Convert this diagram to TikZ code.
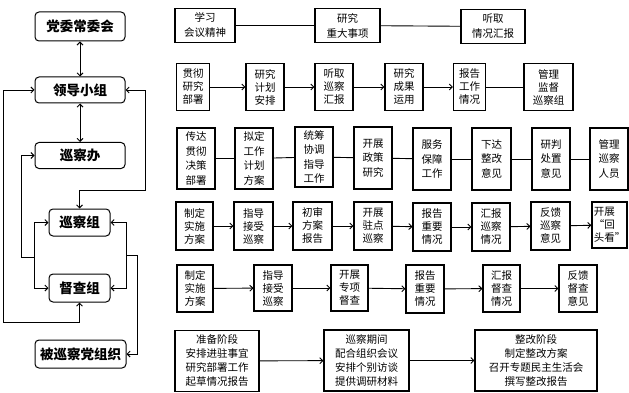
\documentclass[tikz,border=0pt]{standalone}
\usepackage{fontspec}
\newfontfamily\cjk{Noto Sans CJK SC}
\usetikzlibrary{arrows.meta}
\begin{document}
\begin{tikzpicture}[x=1pt,y=-1pt,
  lbox/.style={draw, rounded corners=4pt, line width=1pt, inner sep=0pt, font=\cjk\bfseries\fontsize{13.5}{15}\selectfont},
  rbox/.style={draw, line width=1.2pt, inner sep=0pt, align=center, font=\cjk\fontsize{10.5}{13}\selectfont},
  rboxw/.style={rbox, font=\cjk\fontsize{10.5}{14.5}\selectfont},
  sz/.style 2 args={minimum width=#1pt, minimum height=#2pt},
  conn/.style={line width=0.9pt},
  arw/.style={conn, -{Straight Barb[length=3pt,width=6pt]}},
  darw/.style={conn, {Straight Barb[length=3pt,width=6pt]}-{Straight Barb[length=3pt,width=6pt]}}]
\useasboundingbox (0,0) rectangle (629,393);
% left column
\node[lbox, sz={90}{29}] (dw) at (80,26.5) {党委常委会};
\node[lbox, sz={90}{26}] (ld) at (80,90) {领导小组};
\node[lbox, sz={90}{26}] (xcb) at (80,155.5) {巡察办};
\node[lbox, sz={61}{27}] (xcz) at (79.5,222.5) {巡察组};
\node[lbox, sz={61}{28}] (dcz) at (79.5,288) {督查组};
\node[lbox, sz={91}{28}] (bxc) at (80.5,354) {被巡察党组织};
\draw[darw] (dw) -- (ld);
\draw[darw] (ld) -- (xcb);
\coordinate (L1) at (3,322);
\draw[darw] (ld.west) -| (L1) -| (dcz.south);
\coordinate (L2) at (21,257);
\coordinate (L3) at (34,257);
\draw[arw] (L2) |- (xcb.west);
\draw[conn] (L2) -- (L3);
\draw[arw] (L3) |- (xcz.west);
\draw[arw] (L3) |- (dcz.west);
\coordinate (R1) at (145,190);
\draw[darw] (ld.east) -| (R1) -| (xcz.north);
\coordinate (R2) at (126,255);
\coordinate (R3) at (137,255);
\draw[arw] (R2) |- (xcz.east);
\draw[arw] (R2) |- (dcz.east);
\draw[arw] (R2) -- (R3) |- (bxc.east);
% row 1
\node[rbox, sz={60}{34}, font=\cjk\fontsize{10.5}{15}\selectfont] (a1) at (205,25.5) {学习\\会议精神};
\node[rbox, sz={65}{34}, font=\cjk\fontsize{10.5}{15}\selectfont] (a2) at (347.5,25.5) {研究\\重大事项};
\node[rbox, sz={64}{34}, font=\cjk\fontsize{10.5}{15}\selectfont] (a3) at (493,26.5) {听取\\情况汇报};
\draw[conn] (a1) -- (a2);
\draw[conn] (a2) -- (a3);
% row 2
\node[rbox, sz={33}{47}] (b1) at (193,87) {贯彻\\研究\\部署};
\node[rbox, sz={38}{47}] (b2) at (265,87) {研究\\计划\\安排};
\node[rbox, sz={38}{47}] (b3) at (334,87) {听取\\巡察\\汇报};
\node[rbox, sz={38}{47}] (b4) at (404,87) {研究\\成果\\运用};
\node[rbox, sz={32}{47}] (b5) at (469.5,87) {报告\\工作\\情况};
\node[rbox, sz={49}{47}] (b6) at (548.5,87) {管理\\监督\\巡察组};
\draw[arw] (b1) -- (b2);
\draw[arw] (b2) -- (b3);
\draw[arw] (b3) -- (b4);
\draw[arw] (b4) -- (b5);
\draw[conn] (b5) -- (b6);
% row 3
\node[rboxw, sz={38}{61}] (c1) at (196,158.5) {传达\\贯彻\\决策\\部署};
\node[rboxw, sz={38}{61}] (c2) at (254,158.5) {拟定\\工作\\计划\\方案};
\node[rboxw, sz={38}{60}] (c3) at (314,157) {统筹\\协调\\指导\\工作};
\node[rboxw, sz={38}{62}] (c4) at (373,158) {开展\\政策\\研究};
\node[rboxw, sz={38}{62}] (c5) at (432,159) {服务\\保障\\工作};
\node[rboxw, sz={39}{62}] (c6) at (491.5,159) {下达\\整改\\意见};
\node[rboxw, sz={38}{62}] (c7) at (551,159) {研判\\处置\\意见};
\node[rboxw, sz={38}{62}] (c8) at (609,159) {管理\\巡察\\人员};
\foreach \p/\q in {c1/c2,c2/c3,c3/c4,c4/c5,c5/c6,c6/c7,c7/c8}
  \draw[conn] (\p) -- (\q);
% row 4
\node[rbox, sz={37}{48}] (d1) at (194.5,226) {制定\\实施\\方案};
\node[rbox, sz={39}{48}] (d2) at (253.5,226) {指导\\接受\\巡察};
\node[rbox, sz={39}{48}] (d3) at (312.5,226) {初审\\方案\\报告};
\node[rbox, sz={38}{48}] (d4) at (373,226) {开展\\驻点\\巡察};
\node[rbox, sz={38}{48}] (d5) at (432,227) {报告\\重要\\情况};
\node[rbox, sz={38}{48}] (d6) at (491,227) {汇报\\巡察\\情况};
\node[rbox, sz={39}{48}] (d7) at (550.5,226) {反馈\\巡察\\意见};
\node[rbox, sz={35}{46}, align=left, inner xsep=1.8pt] (d8) at (609.5,225) {开展\\\makebox[1em][r]{“}回\\头看\makebox[1em][l]{”}};
\foreach \p/\q in {d1/d2,d2/d3,d3/d4,d4/d5,d5/d6,d6/d7,d7/d8}
  \draw[arw] (\p) -- (\q);
% row 5
\node[rbox, sz={36}{47}] (e1) at (195,288.5) {制定\\实施\\方案};
\node[rbox, sz={38}{46}] (e2) at (273,288) {指导\\接受\\巡察};
\node[rbox, sz={37}{46}] (e3) at (349.5,288) {开展\\专项\\督查};
\node[rbox, sz={38}{48}] (e4) at (425,289) {报告\\重要\\情况};
\node[rbox, sz={37}{47}] (e5) at (501.5,288.5) {汇报\\督查\\情况};
\node[rbox, sz={38}{47}] (e6) at (578,288.5) {反馈\\督查\\意见};
\foreach \p/\q in {e1/e2,e2/e3,e3/e4,e4/e5,e5/e6}
  \draw[arw] (\p) -- (\q);
% row 6
\node[rbox, sz={84}{61}, font=\cjk\fontsize{10.5}{14}\selectfont] (f1) at (217,361) {准备阶段\\安排进驻事宜\\研究部署工作\\起草情况报告};
\node[rbox, sz={85}{61}, font=\cjk\fontsize{10.5}{14}\selectfont] (f2) at (366.5,360.5) {巡察期间\\配合组织会议\\安排个别访谈\\提供调研材料};
\node[rbox, sz={122}{61}, font=\cjk\fontsize{10.5}{14}\selectfont] (f3) at (536,360.5) {整改阶段\\制定整改方案\\召开专题民主生活会\\撰写整改报告};
\draw[arw] (f1) -- (f2);
\draw[arw] (f2) -- (f3);
\end{tikzpicture}
\end{document}
